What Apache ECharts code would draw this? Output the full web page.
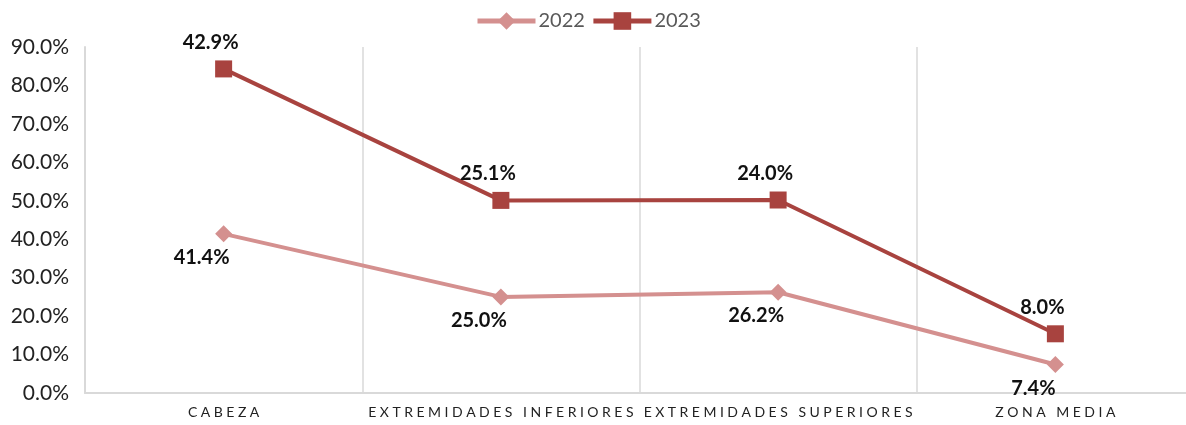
<!DOCTYPE html>
<html>
<head>
<meta charset="utf-8">
<script src="https://cdn.jsdelivr.net/npm/echarts@6/dist/echarts.min.js"></script>
<style>
  html, body { margin: 0; padding: 0; background: #fff; }
  #main { width: 1186px; height: 425px; }
</style>
</head>
<body>
<div id="main"></div>
<script>
// datos
var categorias = ["CABEZA", "EXTREMIDADES INFERIORES", "EXTREMIDADES SUPERIORES", "ZONA MEDIA"];
var anios = ["2022", "2023"];
var valores2022 = [41.4, 25.0, 26.2, 7.4];
var valores2023 = [42.9, 25.1, 24.0, 8.0];
var colores = ["#D4908F", "#A8433F"];

var fuente = "Lato, 'Noto Sans', sans-serif";

function espaciar(txt) {
  // imita el espaciado de letras del original
  return txt.split("").join("\u2005");
}

var chart = echarts.init(document.getElementById("main"));
chart.setOption({
  animation: false,
  legend: {
    top: 6,
    left: 470,
    itemWidth: 58,
    itemHeight: 22,
    itemGap: 6,
    lineStyle: { width: 5 },
    textStyle: { fontFamily: fuente, fontSize: 20, color: "#595959", padding: [0, 0, 0, -2] },
    data: anios
  },
  grid: {
    left: 85,
    top: 47,
    width: 1109,
    bottom: 32,
    outerBoundsMode: "none"
  },
  xAxis: {
    type: "category",
    data: categorias,
    boundaryGap: true,
    axisLine: { lineStyle: { color: "#d9d9d9", width: 2 } },
    axisTick: { show: false },
    splitLine: { show: true, interval: 0, lineStyle: { color: "#d9d9d9", width: 1.5 } },
    axisLabel: {
      interval: 0,
      margin: 12,
      fontFamily: fuente,
      fontSize: 14,
      color: "#222",
      formatter: espaciar
    }
  },
  yAxis: {
    type: "value",
    min: 0,
    max: 90,
    interval: 10,
    axisLine: { show: true, lineStyle: { color: "#d9d9d9", width: 2 } },
    axisTick: { show: false },
    splitLine: { show: false },
    axisLabel: {
      margin: 16,
      fontFamily: fuente,
      fontSize: 21,
      color: "#222",
      formatter: function (v) { return v.toFixed(1) + "%"; }
    }
  },
  series: [
    {
      name: anios[0],
      type: "line",
      stack: "total",
      data: valores2022,
      symbol: "diamond",
      symbolSize: 17,
      color: colores[0],
      lineStyle: { width: 4, color: colores[0] },
      label: {
        show: true,
        position: "bottom",
        distance: 5,
        offset: [-22, 0],
        fontFamily: fuente,
        fontSize: 20,
        fontWeight: "bold",
        color: "#111",
        formatter: function (p) { return p.value.toFixed(1) + "%"; }
      }
    },
    {
      name: anios[1],
      type: "line",
      stack: "total",
      data: valores2023,
      symbol: "rect",
      symbolSize: 17,
      color: colores[1],
      lineStyle: { width: 4, color: colores[1] },
      label: {
        show: true,
        position: "top",
        distance: 8,
        offset: [-13, 0],
        fontFamily: fuente,
        fontSize: 20,
        fontWeight: "bold",
        color: "#111",
        formatter: function (p) { return p.value.toFixed(1) + "%"; }
      }
    }
  ]
});
</script>
</body>
</html>
